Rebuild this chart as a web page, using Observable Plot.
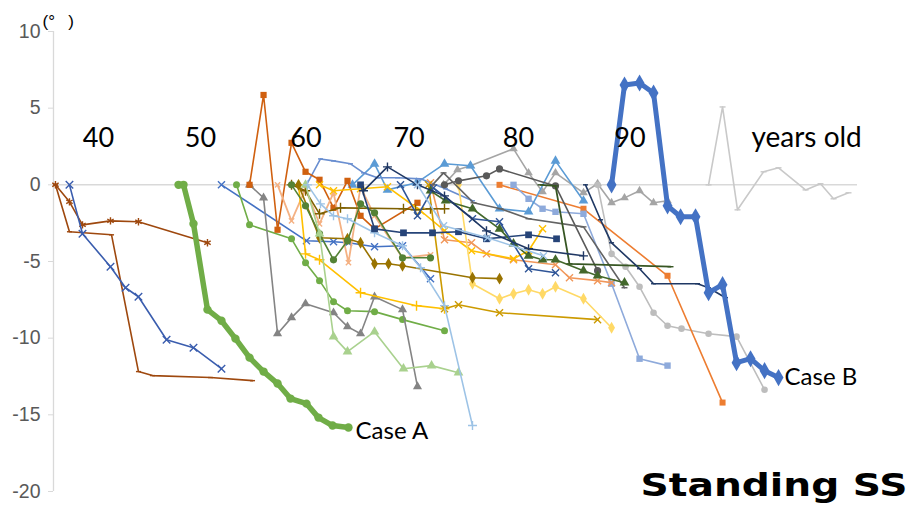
<!DOCTYPE html>
<html><head><meta charset="utf-8">
<script src="https://cdn.jsdelivr.net/npm/d3@7"></script>
<script src="https://cdn.jsdelivr.net/npm/@observablehq/plot@0.6"></script>
<style>body{margin:0;background:#fff;} svg{display:block;}</style>
</head><body><div id="chart"></div>
<script>
// ---- data: [age, degrees] ----
const brownAst = [[35.94,0],[37.26,-1.11],[38.49,-2.61],[41.13,-2.35],[43.77,-2.41],[50.28,-3.78]];
const brownLine = [[35.94,0],[37.26,-3.06],[41.23,-3.26],[43.77,-12.18],[45.09,-12.44],[50.57,-12.57],[54.53,-12.77]];
const blueX = [[37.26,0],[38.49,-3.19],[41.13,-5.34],[42.55,-6.71],[43.77,-7.3],[46.42,-10.1],[48.96,-10.62],[51.6,-11.99]];
const caseA = [[47.55,0],[48.02,0],[48.96,-2.54],[50.28,-8.14],[51.6,-8.86],[52.92,-10.03],[54.25,-11.27],[55.57,-12.18],[56.89,-12.96],[58.11,-13.94],[59.62,-14.27],[60.75,-15.18],[62.08,-15.7],[63.58,-15.83]];
const caseB = [[88.4,0],[89.62,6.51],[91.04,6.64],[92.36,5.99],[93.68,-1.37],[94.91,-2.08],[96.32,-2.08],[97.55,-7.04],[98.87,-6.51],[100.19,-11.6],[101.51,-11.34],[102.83,-12.12],[104.15,-12.57]];
const lightGrayRight = [[97.55,0],[98.87,5.08],[100.28,-1.63],[102.74,0.85],[104.15,1.11],[106.7,-0.33],[108.11,0.07],[109.34,-0.91],[110.75,-0.52]];
const grayTri = [[72.55,0],[73.87,0.98],[75.09,1.24],[79.15,2.35],[80.57,0.78],[81.89,-0.46],[83.11,0.78],[85.75,-0.52],[87.08,0.07],[88.4,-1.17],[89.62,-0.85],[91.04,-0.39],[92.36,-1.17],[93.68,-1.04]];
const lightGrayCirc = [[87.08,0],[88.4,-4.5],[89.72,-5.34],[91.04,-6.65],[92.36,-8.34],[93.68,-9.19],[95.0,-9.38],[97.55,-9.71],[100.19,-9.9],[102.83,-13.36]];
const orangeSq = [[77.83,0],[85.75,-1.56],[93.68,-5.93],[98.87,-14.2]];
const lightBlueSq = [[79.15,0],[80.57,-0.91],[81.89,-1.56],[83.11,-1.76],[85.75,-1.89],[88.4,-6.45],[91.04,-11.34],[93.68,-11.79]];
const medBlueTri = [[63.96,0],[66.04,1.37],[67.26,-0.33],[70.0,0.13],[72.64,1.37],[75.09,1.24],[77.83,-1.56],[80.57,-1.76],[83.11,1.56],[85.75,-1.04]];
const cornflower = [[59.62,0],[60.94,1.69],[62.17,1.56],[63.77,1.37],[65.0,0.78],[66.32,0.46],[68.21,0.46],[70.38,0.39],[72.74,-0.26],[75.28,-1.04]];
const blueX2 = [[51.6,0],[59.62,-3.65],[62.17,-3.71],[63.58,-3.78],[66.04,-4.04],[68.68,-3.97],[71.32,-6.12]];
const greenCirc = [[53.02,0],[54.25,-2.61],[58.21,-3.52],[59.53,-5.08],[60.85,-6.25],[62.17,-7.62],[63.49,-8.21],[66.04,-8.27],[68.68,-8.79],[72.64,-9.51]];
const grayTriDark = [[54.25,0],[55.57,-0.85],[56.89,-9.71],[58.21,-8.66],[59.53,-7.75],[62.17,-8.34],[63.49,-9.25],[64.72,-9.71],[66.04,-7.3],[68.68,-8.14],[70.09,-13.16]];
const orangeSpike = [[54.25,0],[55.57,5.86],[56.89,-2.93],[58.21,2.74],[59.53,0.85],[60.85,0.33],[62.17,-1.5],[63.49,0.26],[64.72,-2.02],[66.04,-2.87],[70.09,-1.17]];
const salmonA = [[56.89,0],[58.21,-2.35],[59.53,-0.26],[60.85,-2.54],[62.17,-0.52],[63.58,-5.08],[64.72,-0.13],[66.04,-2.02],[68.68,-4.76],[71.32,-4.56]];
const salmonB = [[71.32,0.13],[72.64,-3.58],[75.19,-3.78],[76.6,-4.5],[79.15,-4.89],[83.11,-5.21],[84.43,-6.06],[87.08,-6.25],[88.4,-6.38]];
const yellowX = [[60.85,0],[62.17,-0.39],[64.72,-0.26],[67.26,-0.13],[70.38,-1.69],[72.64,-2.99],[75.19,-4.3],[79.15,-4.82],[80.57,-4.3],[81.89,-2.87]];
const yellowPlus = [[58.87,0],[59.53,-4.5],[60.85,-4.89],[64.72,-7.04],[70.0,-7.88],[72.64,-8.08]];
const goldX = [[71.13,0],[72.64,-8.08],[73.96,-7.82],[77.83,-8.34],[87.08,-8.79]];
const lightYellowDia = [[73.96,0],[75.28,-6.45],[77.83,-7.43],[79.15,-7.1],[80.57,-6.84],[81.89,-7.1],[83.11,-6.65],[85.75,-7.43],[88.4,-9.32]];
const olivePlus = [[58.21,0],[59.53,-0.39],[60.85,-1.89],[62.83,-1.5],[68.77,-1.56],[69.91,-1.63],[71.32,-1.56],[72.64,-1.56]];
const oliveDia = [[58.87,0],[60.85,-3.45],[63.49,-3.52],[64.72,-3.78],[66.04,-5.15],[67.36,-5.15],[68.68,-5.28],[75.28,-6.06],[77.83,-6.12]];
const darkGreenCirc = [[58.21,0],[59.53,-1.37],[60.85,-3.19],[62.17,-4.89],[63.49,-3.65],[64.72,-1.24],[66.04,-1.82],[68.68,-4.76],[71.32,-4.76]];
const lightGreenTri = [[59.53,0],[60.85,-3.19],[62.17,-9.9],[63.49,-10.88],[66.04,-9.58],[68.77,-11.99],[71.42,-11.79],[73.96,-12.25]];
const lightBlueLong = [[59.72,0],[60.94,-1.24],[62.17,-2.02],[63.49,-2.21],[66.04,-3.13],[68.68,-3.97],[70.38,-5.41],[72.64,-7.88],[75.28,-15.7]];
const navySq = [[64.72,0],[66.04,-2.87],[68.77,-3.13],[71.51,-3.13],[73.96,-3.06],[76.6,-3.52],[80.57,-3.26],[83.21,-3.52]];
const darkGrayCirc = [[72.64,0],[73.96,0.26],[76.6,0.59],[77.83,1.04],[83.11,-0.07],[87.08,-5.6]];
const darkGrayDash = [[71.51,0],[72.55,0.78],[75.38,-1.17],[77.92,-1.56],[80.57,-2.21],[85.75,-2.74],[89.62,-6.71]];
const darkGreenTri = [[71.32,-0.39],[72.74,-1.04],[75.28,-1.56],[77.83,-2.87],[79.15,-3.84],[80.57,-4.63],[81.89,-4.89],[83.11,-4.89],[85.75,-5.6],[87.08,-5.93],[89.62,-6.38]];
const darkGreen2 = [[81.7,0],[83.11,-0.07],[84.43,-5.15],[93.96,-5.34]];
const navyThin = [[85.94,0],[87.36,-2.28],[88.4,-3.78],[91.04,-5.47],[92.36,-6.45],[96.51,-6.45],[97.55,-6.71],[99.15,-7.36]];
const navyX = [[68.49,0],[70.09,-2.02],[71.6,-0.2],[75.28,-2.21],[77.83,-2.41],[80.57,-5.47],[83.11,-5.73]];
const darkNavyPlus = [[65.0,-0.39],[67.26,1.17],[70.09,0],[72.64,-0.72],[76.6,-3.0],[80.57,-4.17],[85.75,-4.63]];
const lightBlueX = [[70.09,0],[72.55,-2.67],[76.7,-3.45],[81.98,-4.63]];

// tick and label text
const yTicks = [10, 5, 0, -5, -10, -15, -20];
const ageLabels = ["40", "50", "60", "70", "80", "90"];
const ageLabelX = [40, 49.62, 59.57, 69.3, 79.62, 90.14];
const ageLabelY = 3.06;
const unitLabel = "years old";
const unitLabelX = 101.6;
const caseLabels = [{t: "Case A", x: 64.25, y: -16.09}, {t: "Case B", x: 104.72, y: -12.57}];
const titleText = "Standing SS";
const axisUnit = "(°\u2002\u00a0)";

const xMin = 35.755, xMax = 111.6;

// custom dash marker
const dash = {draw(ctx, size) { const r = Math.sqrt(size / Math.PI); ctx.moveTo(-r, 0); ctx.lineTo(r, 0); }};

const series = [
  {d: brownLine, c: "#9E480E", s: dash, w: 1.6, r: 2.5},
  {d: brownAst, c: "#9E480E", s: "asterisk", w: 1.6, r: 3.5},
  {d: blueX, c: "#3A5DAE", s: "times", w: 1.6, r: 3.5},
  {d: lightGrayRight, c: "#C9C9C9", s: dash, w: 1.6, r: 3},
  {d: grayTri, c: "#A5A5A5", s: "triangle", w: 1.6, r: 3.2},
  {d: lightGrayCirc, c: "#BDBDBD", s: "circle", w: 1.6, r: 3.3},
  {d: orangeSq, c: "#ED7D31", s: "square", w: 1.6, r: 3.4},
  {d: lightBlueSq, c: "#8EAADB", s: "square", w: 1.6, r: 3.6},
  {d: medBlueTri, c: "#5B9BD5", s: "triangle", w: 1.6, r: 3.6},
  {d: cornflower, c: "#698ED0", s: dash, w: 1.6, r: 2.5},
  {d: blueX2, c: "#4472C4", s: "times", w: 1.6, r: 3.3},
  {d: greenCirc, c: "#70AD47", s: "circle", w: 1.6, r: 3.5},
  {d: grayTriDark, c: "#848484", s: "triangle", w: 1.6, r: 3.4},
  {d: orangeSpike, c: "#D0600F", s: "square", w: 1.6, r: 3.5},
  {d: salmonA, c: "#F4B183", s: "times", w: 1.8, r: 2.5},
  {d: salmonB, c: "#F1975A", s: "times", w: 1.6, r: 3.3},
  {d: yellowX, c: "#FFC000", s: "times", w: 1.6, r: 3.3},
  {d: yellowPlus, c: "#FFC000", s: "plus", w: 1.6, r: 3.3},
  {d: goldX, c: "#CC9A00", s: "times", w: 1.6, r: 3.3},
  {d: lightYellowDia, c: "#FFD966", s: "diamond", w: 1.6, r: 3.6},
  {d: olivePlus, c: "#7F6000", s: "plus", w: 1.6, r: 3.3},
  {d: oliveDia, c: "#997300", s: "diamond", w: 1.6, r: 3.6},
  {d: darkGreenCirc, c: "#548235", s: "circle", w: 1.6, r: 3.6},
  {d: lightGreenTri, c: "#A9D18E", s: "triangle", w: 1.6, r: 3.6},
  {d: lightBlueLong, c: "#9DC3E6", s: "plus", w: 1.6, r: 3},
  {d: navySq, c: "#264478", s: "square", w: 1.6, r: 3.8},
  {d: darkGrayCirc, c: "#595959", s: "circle", w: 1.6, r: 3.6},
  {d: darkGrayDash, c: "#636363", s: dash, w: 1.6, r: 3},
  {d: darkGreenTri, c: "#43682B", s: "triangle", w: 1.6, r: 3.6},
  {d: darkGreen2, c: "#375623", s: dash, w: 1.8, r: 3},
  {d: navyThin, c: "#1F3864", s: dash, w: 1.6, r: 2.5},
  {d: navyX, c: "#2F5597", s: "times", w: 1.6, r: 3.3},
  {d: darkNavyPlus, c: "#203864", s: "plus", w: 1.6, r: 3},
  {d: lightBlueX, c: "#9DC3E6", s: "times", w: 1.6, r: 3.3},
  {d: caseA, c: "#70AD47", s: "circle", w: 5.5, r: 4.2},
  {d: caseB, c: "#4472C4", s: "diamond", w: 5, r: 5.2}
];

const filled = new Set(["circle", "square", "triangle", "diamond"]);
const seriesMarks = series.flatMap(({d, c, s, w, r}) => {
  const isFill = typeof s === "string" && filled.has(s);
  return [
    Plot.line(d, {x: p => p[0], y: p => p[1], stroke: c, strokeWidth: w, strokeLinejoin: "round"}),
    Plot.dot(d, {x: p => p[0], y: p => p[1], symbol: s, r,
      fill: isFill ? c : "none", stroke: isFill ? "none" : c, strokeWidth: isFill ? 0 : 1.4})
  ];
});

const numFont = "Lato, 'Open Sans', sans-serif";

const chart = Plot.plot({
  width: 911, height: 515,
  marginLeft: 53, marginRight: 54, marginTop: 31, marginBottom: 24,
  x: {domain: [xMin, xMax], axis: null},
  y: {domain: [-20, 10], axis: null},
  style: {background: "#fff", overflow: "visible"},
  marks: [
    Plot.ruleX([xMin], {stroke: "#d9d9d9", strokeWidth: 1.3}),
    Plot.axisY(yTicks, {tickSize: 5, tickPadding: 8, stroke: "#d9d9d9", fill: "#595959",
      fontSize: 19.5, fontFamily: "'Liberation Sans', Arial, sans-serif", tickFormat: d => String(d), label: null}),
    Plot.ruleY([0], {stroke: "#d9d9d9", strokeWidth: 1.5}),
    ...seriesMarks,
    Plot.text(ageLabels, {x: (d, i) => ageLabelX[i], y: () => ageLabelY, text: d => d,
      fontSize: 27, fontFamily: numFont, fill: "#000"}),
    Plot.text([unitLabel], {x: () => unitLabelX, y: () => ageLabelY, text: d => d, textAnchor: "start",
      fontSize: 28, letterSpacing: 0.8, fontFamily: numFont, fill: "#000"}),
    Plot.text(caseLabels, {x: "x", y: "y", text: "t", textAnchor: "start",
      fontSize: 24, fontFamily: numFont, fill: "#000"}),
    Plot.text([axisUnit], {frameAnchor: "top-left", dx: -11, dy: -9.5, textAnchor: "start", lineAnchor: "middle",
      text: d => d, fontSize: 17, fontFamily: "'Liberation Sans', sans-serif", fill: "#000"}),
    Plot.text([titleText], {frameAnchor: "bottom-right", dx: 50, dy: -6, textAnchor: "end", lineAnchor: "middle",
      text: d => d, fontSize: 32, fontWeight: "bold", fontFamily: "'DejaVu Sans', sans-serif", fill: "#000"})
  ]
});
document.getElementById("chart").appendChild(chart);
d3.select(chart).selectAll("text").filter(function () { return this.textContent === titleText; })
  .attr("textLength", 267).attr("lengthAdjust", "spacingAndGlyphs");
</script>
</body></html>
